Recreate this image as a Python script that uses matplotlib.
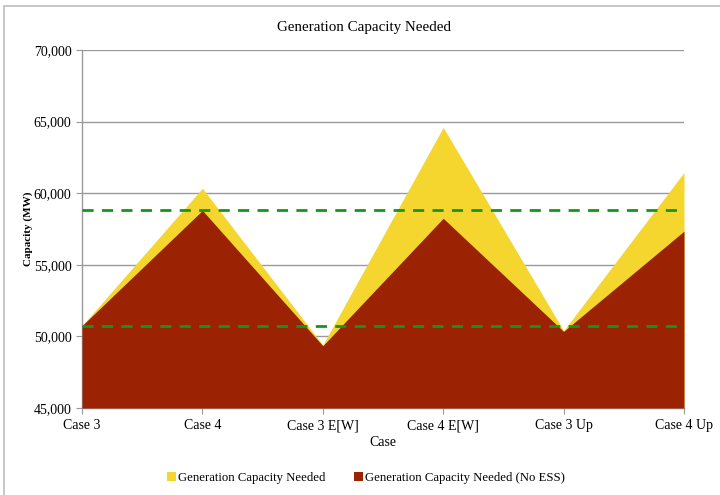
import matplotlib
matplotlib.use("Agg")
import matplotlib.pyplot as plt
from matplotlib.patches import Rectangle
from matplotlib.ticker import FuncFormatter

plt.rcParams['font.family'] = ['Liberation Serif', 'DejaVu Serif']

cases = ["Case 3", "Case 4", "Case 3 E[W]", "Case 4 E[W]", "Case 3 Up", "Case 4 Up"]
needed = [50750, 60350, 49400, 64600, 50400, 61450]
needed_no_ess = [50750, 58800, 49350, 58250, 50350, 57350]
reference_levels = [58800, 50750]

yellow = "#F5D62E"
red = "#9B2303"
green = "#14961A"

fig = plt.figure(figsize=(7.2, 4.95), dpi=100)
fig.patches.append(Rectangle((3.5 / 720, -0.01), 1.05, 1 - 6.5 / 495 + 0.01,
                             transform=fig.transFigure, fill=False,
                             edgecolor="#BDBDBD", linewidth=1.2))
ax = fig.add_axes([82 / 720, 1 - 408 / 495, 602 / 720, 358 / 495])

x = list(range(len(cases)))
ax.fill_between(x, 45000, needed, color=yellow, linewidth=0, zorder=2,
                label="Generation Capacity Needed")
ax.fill_between(x, 45000, needed_no_ess, color=red, linewidth=0, zorder=3,
                label="Generation Capacity Needed (No ESS)")
for lvl in reference_levels:
    ax.axhline(lvl, color=green, linestyle=(0, (4, 3)), linewidth=2, zorder=4)

ax.set_xlim(0, len(cases) - 1)
ax.set_ylim(45000, 70000)
ax.set_yticks(range(45000, 70001, 5000))
ax.yaxis.set_major_formatter(FuncFormatter(lambda v, p: f"{int(v):,}"))
ax.set_xticks(x)
ax.set_xticklabels(cases)
ax.grid(axis="y", color="#9A9A9A", linewidth=1, zorder=1)
ax.set_axisbelow(True)
for s in ["top", "right"]:
    ax.spines[s].set_visible(False)
for s in ["left", "bottom"]:
    ax.spines[s].set_color("#9A9A9A")
    ax.spines[s].set_linewidth(1)
ax.tick_params(axis="both", colors="#9A9A9A", labelcolor="black",
               labelsize=10, length=4, direction="out")
ax.tick_params(axis="x", pad=4)

fig.text(364 / 720, 1 - 27 / 495, "Generation Capacity Needed",
         ha="center", va="center", fontsize=10.8)
fig.text(383 / 720, 1 - 442 / 495, "Case", ha="center", va="center", fontsize=10)
fig.text(28 / 720, 1 - 229 / 495, "Capacity (MW)", ha="center", va="center",
         rotation=90, fontsize=8, fontweight="bold")

handles, labels = ax.get_legend_handles_labels()
leg = fig.legend(handles, labels, loc="center", bbox_to_anchor=(366 / 720, 1 - 478 / 495),
                 ncol=2, frameon=False, fontsize=9.2, handlelength=0.7,
                 handleheight=0.7, handletextpad=0.2, columnspacing=2.2)

fig.savefig("out.png", dpi=100)
